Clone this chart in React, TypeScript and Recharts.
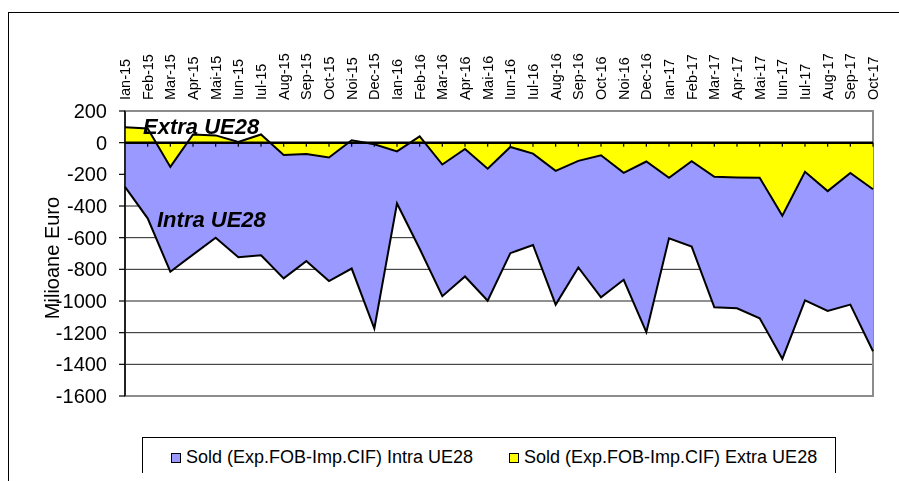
import React from 'react';
import {
  AreaChart, Area, XAxis, YAxis, CartesianGrid, ReferenceLine, ReferenceArea, Legend,
} from 'recharts';

const months = [
  'Ian-15', 'Feb-15', 'Mar-15', 'Apr-15', 'Mai-15', 'Iun-15', 'Iul-15', 'Aug-15', 'Sep-15', 'Oct-15', 'Noi-15', 'Dec-15',
  'Ian-16', 'Feb-16', 'Mar-16', 'Apr-16', 'Mai-16', 'Iun-16', 'Iul-16', 'Aug-16', 'Sep-16', 'Oct-16', 'Noi-16', 'Dec-16',
  'Ian-17', 'Feb-17', 'Mar-17', 'Apr-17', 'Mai-17', 'Iun-17', 'Iul-17', 'Aug-17', 'Sep-17', 'Oct-17',
];

const intraUE28 = [
  -279, -478, -815, -707, -600, -723, -711, -857, -748, -874, -795, -1174,
  -384, -670, -970, -845, -998, -698, -646, -1023, -788, -977, -866, -1197,
  -604, -656, -1040, -1046, -1109, -1365, -996, -1063, -1023, -1317,
];

const extraUE28 = [
  98, 90, -153, 52, 46, 4, 52, -78, -71, -94, 15, -10,
  -55, 40, -138, -40, -164, -27, -69, -178, -115, -80, -191, -119,
  -222, -117, -216, -220, -222, -461, -184, -306, -191, -294,
];

const yTicks = [200, 0, -200, -400, -600, -800, -1000, -1200, -1400, -1600];
const gridValues = [0, -200, -400, -600, -800, -1000, -1200, -1400];

const seriesNames = {
  intra: 'Sold (Exp.FOB-Imp.CIF) Intra UE28',
  extra: 'Sold (Exp.FOB-Imp.CIF) Extra UE28',
};

const annotations = { extra: 'Extra UE28', intra: 'Intra UE28', yLabel: 'Milioane Euro' };

const data = months.map((m, i) => ({ month: m, intra: intraUE28[i], extra: extraUE28[i] }));

const FONT = '"Liberation Sans", Arial, sans-serif';
const INTRA_COLOR = '#9999FF';
const EXTRA_COLOR = '#FFFF00';

const TopTick = (props: any) => {
  const { x, y, payload } = props;
  return (
    <text
      x={x}
      y={y}
      transform={`rotate(-90, ${x}, ${y})`}
      textAnchor="start"
      dy="0.35em"
      fontSize={14.5}
      fontFamily={FONT}
      fill="#000"
    >
      {payload.value}
    </text>
  );
};

const LegendContent = () => (
  <div
    style={{
      boxSizing: 'border-box',
      width: 694,
      height: 41,
      border: '1px solid #000',
      background: '#fff',
      display: 'flex',
      alignItems: 'center',
      paddingLeft: 28,
      fontFamily: FONT,
      fontSize: 18,
      color: '#000',
      whiteSpace: 'nowrap',
    }}
  >
    <span style={{ display: 'inline-block', width: 8, height: 8, background: INTRA_COLOR, border: '1px solid #000', marginRight: 5 }} />
    <span>{seriesNames.intra}</span>
    <span style={{ display: 'inline-block', width: 8, height: 8, background: EXTRA_COLOR, border: '1px solid #000', marginLeft: 36, marginRight: 5 }} />
    <span>{seriesNames.extra}</span>
  </div>
);

export default function App() {
  return (
    <div style={{ position: 'relative', width: 880, height: 465 }}>
      <div
        style={{
          position: 'fixed',
          left: 8,
          top: 12,
          width: 1000,
          height: 1000,
          border: '1px solid #000',
          pointerEvents: 'none',
        }}
      />
      <AreaChart
        width={880}
        height={465}
        data={data}
        margin={{ top: 43, right: 15, bottom: 77, left: 37 }}
      >
        <CartesianGrid horizontal vertical={false} horizontalValues={gridValues} stroke="#222" strokeWidth={1} />
        <ReferenceArea
          x1={months[0]}
          x2={months[months.length - 1]}
          y1={-1600}
          y2={200}
          fill="none"
          stroke="#8c8c8c"
          strokeWidth={2}
          ifOverflow="visible"
        />
        <XAxis
          dataKey="month"
          orientation="top"
          height={60}
          interval={0}
          axisLine={false}
          tickLine={false}
          tickSize={0}
          tickMargin={11}
          tick={<TopTick />}
        />
        <YAxis
          type="number"
          domain={[-1600, 200]}
          ticks={yTicks}
          interval={0}
          width={80}
          tickSize={6}
          tickMargin={12}
          axisLine={{ stroke: '#000', strokeWidth: 1.5 }}
          tickLine={{ stroke: '#000', strokeWidth: 1.2 }}
          tick={{ fontSize: 20, fill: '#000', fontFamily: FONT }}
        />
        <Area
          type="linear"
          dataKey="intra"
          name={seriesNames.intra}
          baseValue={0}
          fill={INTRA_COLOR}
          fillOpacity={1}
          stroke="#000"
          strokeWidth={2}
          dot={false}
          activeDot={false}
          isAnimationActive={false}
        />
        <Area
          type="linear"
          dataKey="extra"
          name={seriesNames.extra}
          baseValue={0}
          fill={EXTRA_COLOR}
          fillOpacity={1}
          stroke="#000"
          strokeWidth={2}
          dot={false}
          activeDot={false}
          isAnimationActive={false}
        />
        <ReferenceLine y={0} stroke="#000" strokeWidth={2.5} ifOverflow="visible" />
        {months.slice(1).map((m) => (
          <ReferenceLine
            key={m}
            segment={[{ x: m, y: 0 }, { x: m, y: -25 }]}
            stroke="#000"
            strokeWidth={1.2}
          />
        ))}
        <Legend
          layout="horizontal"
          verticalAlign="middle"
          align="center"
          wrapperStyle={{ left: 134, top: 429, width: 694, height: 41 }}
          content={<LegendContent />}
        />
      </AreaChart>
      <svg
        width={880}
        height={465}
        style={{ position: 'absolute', left: 0, top: 0, pointerEvents: 'none', overflow: 'visible' }}
      >
        <g fontFamily={FONT} fontWeight="bold" fontStyle="italic" fontSize={22} fill="#000">
          <text x={135} y={126}>{annotations.extra}</text>
          <text x={149} y={219}>{annotations.intra}</text>
        </g>
        <text
          x={44}
          y={250}
          transform="rotate(-90, 44, 250)"
          textAnchor="middle"
          dy="0.35em"
          fontFamily={FONT}
          fontSize={20}
          fill="#000"
        >
          {annotations.yLabel}
        </text>
      </svg>
    </div>
  );
}
